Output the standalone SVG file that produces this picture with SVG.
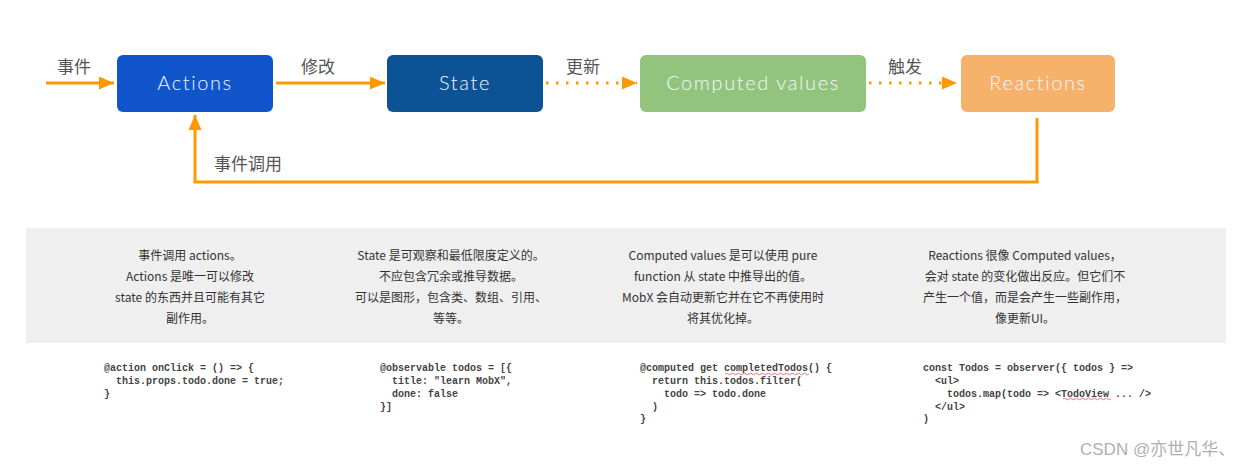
<svg xmlns="http://www.w3.org/2000/svg" width="1252" height="467" viewBox="0 0 1252 467">
<style>
.node{stroke:none}
.nlabel{font-family:Lato,"Noto Sans",sans-serif;font-weight:300;font-size:20px;letter-spacing:1.6px;fill:#f4f7fc;text-anchor:middle}
.elabel{font-family:"Noto Sans CJK SC",sans-serif;font-size:17px;fill:#555}
.conn{stroke:#ff9900;stroke-width:3;fill:none}
.dot{stroke-dasharray:2.5 7.5}
.desc{font-family:"Noto Sans CJK SC",sans-serif;font-size:12px;fill:#333;text-anchor:middle}
.code{font-family:"Liberation Mono",monospace;font-weight:bold;font-size:10px;fill:#444;white-space:pre}
.wavy{stroke:#e05050;stroke-width:0.8;fill:none}
.wm{font-family:"Liberation Sans","Noto Sans CJK SC",sans-serif;font-size:17px;fill:#b0b0b0}
</style>
<defs>
<marker id="arr" markerUnits="userSpaceOnUse" markerWidth="16" markerHeight="13" refX="15" refY="6.5" orient="auto">
<path d="M0,0 L15,6.5 L0,13 Z" fill="#ff9900"/>
</marker>
</defs>
<rect width="1252" height="467" fill="#ffffff"/>

<g id="connectors">
<line class="conn" x1="46" y1="83" x2="114" y2="83" marker-end="url(#arr)"/>
<line class="conn" x1="276" y1="83" x2="385" y2="83" marker-end="url(#arr)"/>
<line class="conn dot" x1="546" y1="83" x2="637" y2="83" marker-end="url(#arr)"/>
<line class="conn dot" x1="869" y1="83" x2="957" y2="83" marker-end="url(#arr)"/>
<polyline class="conn" points="1037,118 1037,182 195,182 195,115" marker-end="url(#arr)"/>
<text class="elabel" x="57" y="73">事件</text>
<text class="elabel" x="301" y="73">修改</text>
<text class="elabel" x="566" y="73">更新</text>
<text class="elabel" x="888" y="73">触发</text>
<text class="elabel" x="214" y="170">事件调用</text>
</g>

<g id="actions">
<rect class="node" x="117" y="55" width="156" height="57" rx="6" fill="#1155cc"/>
<text class="nlabel" x="195" y="90">Actions</text>
</g>
<g id="state">
<rect class="node" x="387" y="55" width="156" height="57" rx="6" fill="#0b5394"/>
<text class="nlabel" x="465" y="90">State</text>
</g>
<g id="computed">
<rect class="node" x="640" y="55" width="226" height="57" rx="6" fill="#93c47d"/>
<text class="nlabel" x="753" y="90">Computed values</text>
</g>
<g id="reactions">
<rect class="node" x="961" y="55" width="154" height="57" rx="6" fill="#f6b26b"/>
<text class="nlabel" x="1038" y="90">Reactions</text>
</g>

<g id="panel">
<rect x="26" y="228" width="1200" height="115" fill="#efefef"/>
<text class="desc" x="190" y="260">事件调用 actions。</text>
<text class="desc" x="190" y="281">Actions 是唯一可以修改</text>
<text class="desc" x="190" y="302">state 的东西并且可能有其它</text>
<text class="desc" x="190" y="323">副作用。</text>

<text class="desc" x="451" y="260">State 是可观察和最低限度定义的。</text>
<text class="desc" x="451" y="281">不应包含冗余或推导数据。</text>
<text class="desc" x="451" y="302">可以是图形，包含类、数组、引用、</text>
<text class="desc" x="451" y="323">等等。</text>

<text class="desc" x="723" y="260">Computed values 是可以使用 pure</text>
<text class="desc" x="723" y="281">function 从 state 中推导出的值。</text>
<text class="desc" x="723" y="302">MobX 会自动更新它并在它不再使用时</text>
<text class="desc" x="723" y="323">将其优化掉。</text>

<text class="desc" x="1025" y="260">Reactions 很像 Computed values，</text>
<text class="desc" x="1025" y="281">会对 state 的变化做出反应。但它们不</text>
<text class="desc" x="1025" y="302">产生一个值，而是会产生一些副作用，</text>
<text class="desc" x="1025" y="323">像更新UI。</text>
</g>

<g id="code">
<text class="code" x="104" y="371">@action onClick = () =&gt; {</text>
<text class="code" x="104" y="384">  this.props.todo.done = true;</text>
<text class="code" x="104" y="397">}</text>

<text class="code" x="380" y="371">@observable todos = [{</text>
<text class="code" x="380" y="384">  title: "learn MobX",</text>
<text class="code" x="380" y="397">  done: false</text>
<text class="code" x="380" y="410">}]</text>

<text class="code" x="640" y="371">@computed get completedTodos() {</text>
<text class="code" x="640" y="384">  return this.todos.filter(</text>
<text class="code" x="640" y="397">    todo =&gt; todo.done</text>
<text class="code" x="640" y="410">  )</text>
<text class="code" x="640" y="422">}</text>
<path class="wavy" d="M725,374 q1.5,-1.5 3,0 t3,0 t3,0 t3,0 t3,0 t3,0 t3,0 t3,0 t3,0 t3,0 t3,0 t3,0 t3,0 t3,0 t3,0 t3,0 t3,0 t3,0 t3,0 t3,0 t3,0 t3,0 t3,0 t3,0 t3,0 t3,0 t3,0 t3,0"/>

<text class="code" x="923" y="371">const Todos = observer({ todos } =&gt;</text>
<text class="code" x="923" y="384">  &lt;ul&gt;</text>
<text class="code" x="923" y="397">    todos.map(todo =&gt; &lt;TodoView ... /&gt;</text>
<text class="code" x="923" y="410">  &lt;/ul&gt;</text>
<text class="code" x="923" y="422">)</text>
<path class="wavy" d="M1063,399 q1.5,-1.5 3,0 t3,0 t3,0 t3,0 t3,0 t3,0 t3,0 t3,0 t3,0 t3,0 t3,0 t3,0 t3,0 t3,0 t3,0 t3,0"/>
</g>

<text class="wm" x="1080" y="455">CSDN @亦世凡华、</text>
</svg>
